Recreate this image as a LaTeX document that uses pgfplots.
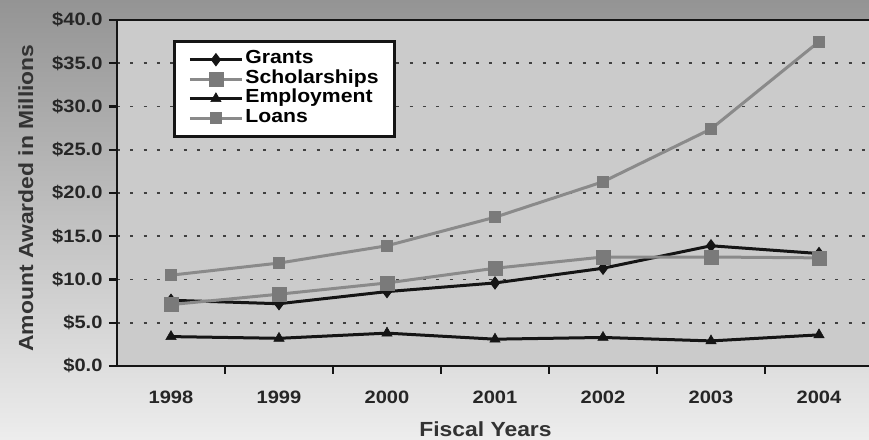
\documentclass[border=0pt]{standalone}
\usepackage{pgfplots}
\pgfplotsset{compat=1.18}
\usepackage{fontspec}
\setmainfont[FakeStretch=1.12]{Liberation Sans}
\definecolor{plotbg}{HTML}{CBCBCB}
\definecolor{ser}{HTML}{8A8A8A}
\definecolor{serm}{HTML}{7A7A7A}
\definecolor{blk}{HTML}{151515}
\begin{document}
\begin{tikzpicture}
\useasboundingbox (0,0) rectangle (869bp,440bp);
\shade[top color=black!42, middle color=black!20, bottom color=black!7] (0,0) rectangle (869bp,440bp);
\begin{axis}[
  at={(117bp,74bp)}, anchor=south west,
  scale only axis, width=752bp, height=346bp,
  xmin=-0.5, xmax=6.463, ymin=0, ymax=40,
  axis background/.style={fill=plotbg},
  axis x line*=bottom, axis y line*=left,
  axis line style={line width=2.6bp, blk},
  xtick={0,...,6},
  xticklabels={1998,1999,2000,2001,2002,2003,2004},
  minor xtick={0.5,1.5,2.5,3.5,4.5,5.5},
  major x tick style={draw=none},
  minor x tick style={line width=2.2bp, blk},
  minor tick length=8bp,
  ytick={0,5,...,40},
  y tick style={line width=2.2bp, blk},
  major tick length=8bp,
  tick align=outside,
  ymajorgrids,
  grid style={line width=1.8bp, black!75, dash pattern=on 3bp off 10.3bp},
  /pgf/number format/assume math mode=true,
  ticklabel style={font=\bfseries\fontsize{18}{19}\selectfont, text=black!85},
  yticklabel={\$\pgfmathprintnumber[fixed,fixed zerofill,precision=1]{\tick}},
  xticklabel style={anchor=base, yshift=-30bp},
  yticklabel style={anchor=east, xshift=-3bp},
  xlabel={Fiscal Years},
  ylabel={Amount Awarded in Millions},
  xlabel style={at={(rel axis cs:0.49,-0.2052)}, anchor=base, font=\bfseries\fontsize{20.5}{22}\selectfont, text=black!80},
  ylabel style={at={(rel axis cs:-0.1117,0.4855)}, anchor=base, rotate=0, font=\bfseries\fontsize{20.5}{22}\selectfont, text=black!80},
  legend style={at={(rel axis cs:0.0745,0.942)}, anchor=north west, fill=white, draw=blk, line width=2.8bp,
    font=\bfseries\fontsize{19}{19}\selectfont, row sep=0bp, inner xsep=14bp, inner ysep=8.5bp,
    nodes={inner ysep=0bp, inner xsep=2bp, text height=14bp, text depth=5.5bp},
    cells={anchor=west}},
  legend image code/.code={\draw[#1] (0bp,0bp) -- (52bp,0bp) plot coordinates {(26bp,0bp)};},
  clip=false,
]
\addplot[blk, line width=3bp, mark=diamond*, mark size=6bp, mark options={line width=1bp}]
  coordinates {(0,7.6) (1,7.2) (2,8.6) (3,9.6) (4,11.3) (5,13.9) (6,13.0)};
\addlegendentry{Grants}
\addplot[ser, line width=3bp, mark=square*, mark size=7bp, mark options={fill=serm, draw=serm, line width=0.5bp}]
  coordinates {(0,7.1) (1,8.3) (2,9.6) (3,11.3) (4,12.6) (5,12.6) (6,12.5)};
\addlegendentry{Scholarships}
\addplot[blk, line width=3bp, mark=triangle*, mark size=6bp, mark options={line width=0.5bp}]
  coordinates {(0,3.4) (1,3.2) (2,3.8) (3,3.1) (4,3.3) (5,2.9) (6,3.6)};
\addlegendentry{Employment}
\addplot[ser, line width=3bp, mark=square*, mark size=5.5bp, mark options={fill=serm, draw=serm, line width=0.5bp}]
  coordinates {(0,10.5) (1,11.9) (2,13.9) (3,17.2) (4,21.3) (5,27.4) (6,37.5)};
\addlegendentry{Loans}
\draw[line width=2.6bp, blk] (rel axis cs:0,1) -- (rel axis cs:1,1);
\end{axis}
\end{tikzpicture}
\end{document}
